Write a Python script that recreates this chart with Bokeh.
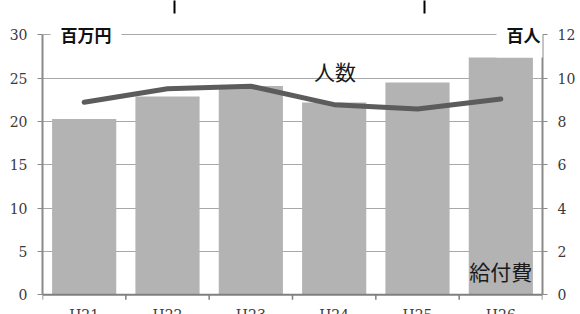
from bokeh.plotting import figure
from bokeh.models import Range1d, LinearAxis, FixedTicker, ColumnDataSource, Label, Span, Arrow
from bokeh.core.properties import value
from bokeh.embed import file_html
from bokeh.resources import INLINE

# ---- data ----
categories = ["H21", "H22", "H23", "H24", "H25", "H26"]
benefit = [20.3, 22.9, 24.1, 22.2, 24.5, 27.4]      # 給付費 (百万円, left axis)
people = [8.89, 9.51, 9.63, 8.78, 8.58, 9.04]       # 人数 (百人, right axis)
left_ticks = [0, 5, 10, 15, 20, 25, 30]
right_ticks = [0, 2, 4, 6, 8, 10, 12]

xpos = [i + 0.5 for i in range(len(categories))]
boundaries = list(range(len(categories) + 1))
src = ColumnDataSource(dict(x=xpos, cat=categories, benefit=benefit, people=people))

SERIF = "DejaVu Serif"
CJK = "Noto Sans CJK JP"

# ---- layout (pixels) ----
W, H = 580, 314
PLOT_TOP, PLOT_BOTTOM = 34.4, 294.3     # pixel rows of the axis max / zero
LMAX, RMAX = left_ticks[-1], right_ticks[-1]


def span_range(vmax):
    per_px = vmax / (PLOT_BOTTOM - PLOT_TOP)
    return Range1d(-(H - PLOT_BOTTOM) * per_px, vmax + PLOT_TOP * per_px)


lpx = (PLOT_BOTTOM - PLOT_TOP) / LMAX   # pixels per left unit

p = figure(width=W, height=H, output_backend="svg", toolbar_location=None,
           x_axis_location=None,
           x_range=Range1d(0, len(categories)), y_range=span_range(LMAX),
           min_border_left=42, min_border_right=38, min_border_top=0, min_border_bottom=0)
p.title.visible = False
p.outline_line_color = None
p.background_fill_color = "white"
p.border_fill_color = "white"
p.extra_y_ranges = {"people": span_range(RMAX)}

# grid
p.xgrid.visible = False
p.ygrid.ticker = FixedTicker(ticks=left_ticks)
p.ygrid.grid_line_color = "#a8a8a8"
p.ygrid.grid_line_width = 1

# bars and line
p.vbar(x="x", top="benefit", bottom=0, width=0.77, source=src,
       fill_color="#b3b3b3", line_color=None)
p.line(x="x", y="people", source=src, y_range_name="people",
       line_color="#5c5c5c", line_width=5, line_cap="round", line_join="round")


def style_axis(ax):
    ax.axis_line_color = "#8a8a8a"
    ax.axis_line_width = 2
    ax.major_tick_line_color = "#8a8a8a"
    ax.major_tick_out = 5
    ax.major_tick_in = 0
    ax.minor_tick_line_color = None
    ax.major_label_standoff = 10
    ax.major_label_text_font = SERIF
    ax.major_label_text_font_size = "14px"
    ax.major_label_text_color = "#3a3a3a"


# left axis
ya = p.yaxis[0]
ya.ticker = FixedTicker(ticks=left_ticks)
ya.bounds = (0, LMAX)
style_axis(ya)

# right axis
ra = LinearAxis(y_range_name="people", ticker=FixedTicker(ticks=right_ticks), bounds=(0, RMAX))
style_axis(ra)
p.add_layout(ra, "right")

# bottom axis: line at zero, ticks at category boundaries, category labels
p.add_layout(Span(location=0, dimension="width", line_color="#7f7f7f", line_width=2))
p.segment(x0=boundaries, y0=[0] * len(boundaries), x1=boundaries,
          y1=[-5 / lpx] * len(boundaries), line_color="#7f7f7f", line_width=1.5)
p.text(x="x", y=-12.5 / lpx, text="cat", source=src,
       text_align="center", text_baseline="top",
       text_font=value(SERIF), text_font_size="14px", text_color="#3a3a3a")

# axis unit labels
p.add_layout(Label(x=0, y=LMAX, x_offset=8, text="百万円", text_align="left",
                   text_baseline="middle", text_font=CJK, text_font_style="bold",
                   text_font_size="17px", text_color="#111111",
                   background_fill_color="white", padding=10))
p.add_layout(Label(x=len(categories), y=RMAX, y_range_name="people", x_offset=8, text="百人",
                   text_align="right", text_baseline="middle", text_font=CJK,
                   text_font_style="bold", text_font_size="17px", text_color="#111111",
                   background_fill_color="white", padding=10))

# series labels
p.add_layout(Label(x=3.51, y=25.8, text="人数", text_align="center", text_baseline="middle",
                   text_font=CJK, text_font_size="21px", text_color="#1a1a1a"))
p.add_layout(Label(x=5.5, y=2.7, text="給付費", text_align="center", text_baseline="middle",
                   text_font=CJK, text_font_size="21px", text_color="#1a1a1a"))

# callout lines at the top edge
for xc in (1.584, 4.584):
    p.add_layout(Arrow(end=None, x_start=xc, y_start=LMAX + (PLOT_TOP - 13) / lpx,
                       x_end=xc, y_end=LMAX + (PLOT_TOP + 2) / lpx,
                       line_color="black", line_width=2))

open("out.html", "w").write(file_html(p, INLINE))
